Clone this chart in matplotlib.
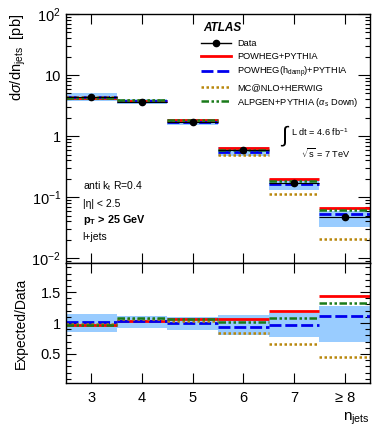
import matplotlib
matplotlib.use('Agg')
import matplotlib.pyplot as plt
import numpy as np
from matplotlib.ticker import MultipleLocator

plt.rcParams['font.family'] = ['Liberation Sans', 'DejaVu Sans']
plt.rcParams['mathtext.fontset'] = 'custom'
plt.rcParams['mathtext.rm'] = 'Liberation Sans'
plt.rcParams['mathtext.it'] = 'Liberation Sans:italic'
plt.rcParams['mathtext.bf'] = 'Liberation Sans:bold'

# jet multiplicity bins
njets = [3, 4, 5, 6, 7, 8]
njets_labels = ['3', '4', '5', '6', '7', '≥ 8']

# measured cross section [pb]
data = [4.4, 3.65, 1.72, 0.59, 0.168, 0.0465]
# total uncertainty band, relative to data
band_up = [1.14, 1.11, 1.10, 1.13, 1.16, 1.28]
band_down = [0.85, 0.92, 0.89, 0.80, 0.78, 0.70]

# expected / data
ratio_powheg = [0.96, 1.04, 1.07, 1.07, 1.19, 1.44]
ratio_hdamp = [1.01, 1.04, 1.00, 0.93, 0.97, 1.12]
ratio_mcnlo = [0.98, 1.07, 1.03, 0.84, 0.66, 0.45]
ratio_alpgen = [0.97, 1.08, 1.07, 1.01, 1.08, 1.32]

x = np.array(njets, dtype=float)
data = np.array(data)
lo = x - 0.5
hi = x + 0.5

models = [
    ('POWHEG+PYTHIA', ratio_powheg, dict(color='red', lw=2.0, ls='-')),
    ('POWHEG(h$_{\\rm damp}$)+PYTHIA', ratio_hdamp, dict(color='#0000ee', lw=2.0, ls=(0, (4.3, 1.4)))),
    ('MC@NLO+HERWIG', ratio_mcnlo, dict(color='#b8860b', lw=1.8, ls=(0, (1, 1)))),
    ('ALPGEN+PYTHIA ($\\alpha_{\\rm s}$ Down)', ratio_alpgen, dict(color='#1a7a1a', lw=1.8, ls=(0, (3, 1, 1, 1, 1, 1)))),
]
band_color = '#99ccff'

fig = plt.figure(figsize=(3.9, 4.4), dpi=100)
ax = fig.add_axes([0.169, 0.402, 0.780, 0.566])
axr = fig.add_axes([0.169, 0.1295, 0.780, 0.2727], sharex=ax)

# ---- top panel
ax.bar(x, data * (np.array(band_up) - np.array(band_down)), bottom=data * np.array(band_down),
       width=1.0, color=band_color, lw=0, zorder=1)
handles = []
for name, r, st in models:
    ax.hlines(data * np.array(r), lo, hi, zorder=2, **st)
    h, = ax.plot([], [], label=name, **st)
    handles.append(h)
ax.hlines(data, lo, hi, color='black', lw=0.8, zorder=3)
ax.errorbar(x, data, yerr=data * 0.02, fmt='o', color='black', ms=4.5, lw=1, capsize=0, zorder=4)
hd, = ax.plot([], [], 'o-', color='black', ms=4.5, lw=1)
ax.set_yscale('log')
ax.set_ylim(0.0083, 100)
ax.set_xlim(2.5, 8.5)
ax.set_ylabel(r'd$\sigma$/dn$_{\rm jets}$  [pb]', fontsize=10.5, ha='right', y=1.0)
ax.yaxis.set_label_coords(-0.125, 1.0)
ax.set_yticks([0.01, 0.1, 1, 10, 100])
ax.set_yticklabels(['10$^{-2}$', '10$^{-1}$', '1', '10', '10$^2$'])
ax.tick_params(axis='x', labelbottom=False)

leg = ax.legend([hd] + handles, ['Data'] + [m[0] for m in models], loc='upper left',
                bbox_to_anchor=(0.432, 0.913), frameon=False, fontsize=6.7, handlelength=3.2,
                handletextpad=0.65, labelspacing=0.38, borderaxespad=0)

ax.text(0.451, 0.944, 'ATLAS', transform=ax.transAxes, fontsize=8.5, fontweight='bold',
        fontstyle='italic', va='center', ha='left')
ax.text(0.708, 0.51, '∫', transform=ax.transAxes, fontsize=16, va='center', ha='left')
ax.text(0.741, 0.527, 'L dt = 4.6 fb$^{-1}$', transform=ax.transAxes, fontsize=6.6,
        va='center', ha='left')
ax.text(0.772, 0.44, r'$\sqrt{\rm s}$ = 7 TeV', transform=ax.transAxes, fontsize=6.6,
        va='center', ha='left')
ax.text(0.055, 0.31, 'anti k$_{\\rm t}$ R=0.4', transform=ax.transAxes, fontsize=7.5, va='center')
ax.text(0.055, 0.237, '|η| < 2.5', transform=ax.transAxes, fontsize=7.5, va='center')
ax.text(0.055, 0.173, 'p$_{\\bf T}$ > 25 GeV', transform=ax.transAxes, fontsize=7.8,
        fontweight='bold', va='center')
ax.text(0.055, 0.105, 'l+jets', transform=ax.transAxes, fontsize=7.5, va='center')

# ---- ratio panel
axr.bar(x, np.array(band_up) - np.array(band_down), bottom=band_down, width=1.0,
        color=band_color, lw=0, zorder=1)
for name, r, st in models:
    axr.hlines(r, lo, hi, zorder=2, **st)
axr.set_ylim(0.03, 1.97)
axr.set_yticks([0.5, 1.0, 1.5])
axr.set_yticklabels(['0.5', '1', '1.5'])
axr.yaxis.set_minor_locator(MultipleLocator(0.1))
axr.set_ylabel('Expected/Data', fontsize=10)
axr.yaxis.set_label_coords(-0.125, 0.5)
axr.set_xticks(njets)
axr.set_xticklabels(njets_labels)
axr.set_xlabel('n$_{\\rm jets}$', fontsize=11, ha='right', x=1.0)

for a in (ax, axr):
    a.tick_params(which='both', direction='in', top=True, right=True, labelsize=10.5)
    a.tick_params(which='major', length=7, width=0.8)
    a.tick_params(which='minor', length=3.5, width=0.8)
    a.tick_params(axis='x', which='minor', bottom=False, top=False)
    for s in a.spines.values():
        s.set_linewidth(1.0)
ax.tick_params(axis='y', which='major', length=9)
axr.tick_params(axis='x', pad=6)

fig.savefig('out.png', dpi=100)
